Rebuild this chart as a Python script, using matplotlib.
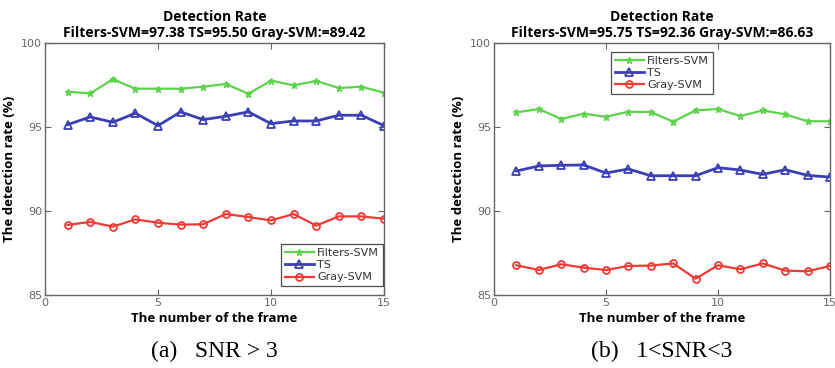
import matplotlib
matplotlib.use("Agg")
import matplotlib.pyplot as plt

frames = list(range(1, 16))

# Panel (a) SNR > 3
a_filters = [97.10, 97.00, 97.84, 97.28, 97.28, 97.28, 97.40, 97.56, 96.98, 97.76, 97.48, 97.74, 97.32, 97.40, 97.04]
a_ts      = [95.14, 95.60, 95.28, 95.82, 95.08, 95.90, 95.44, 95.64, 95.90, 95.20, 95.36, 95.36, 95.70, 95.70, 95.08]
a_gray    = [89.17, 89.35, 89.07, 89.50, 89.30, 89.19, 89.21, 89.82, 89.64, 89.44, 89.82, 89.13, 89.68, 89.68, 89.54]

# Panel (b) 1<SNR<3
b_filters = [95.87, 96.07, 95.48, 95.79, 95.61, 95.91, 95.89, 95.32, 95.99, 96.07, 95.65, 95.99, 95.75, 95.34, 95.34]
b_ts      = [92.38, 92.68, 92.72, 92.74, 92.26, 92.50, 92.10, 92.10, 92.10, 92.58, 92.44, 92.18, 92.46, 92.12, 92.02]
b_gray    = [86.77, 86.49, 86.83, 86.63, 86.49, 86.73, 86.75, 86.88, 85.97, 86.77, 86.53, 86.88, 86.45, 86.41, 86.73]

titles = ["Detection Rate\nFilters-SVM=97.38 TS=95.50 Gray-SVM:=89.42",
          "Detection Rate\nFilters-SVM=95.75 TS=92.36 Gray-SVM:=86.63"]
captions = ["(a)   SNR > 3", "(b)   1<SNR<3"]
series_names = ["Filters-SVM", "TS", "Gray-SVM"]
xticks = [0, 5, 10, 15]
yticks = [85, 90, 95, 100]

W, H = 835, 368
fig = plt.figure(figsize=(W / 100, H / 100), dpi=100)

def rect(x0, y0, x1, y1):
    return [x0 / W, 1 - y1 / H, (x1 - x0) / W, (y1 - y0) / H]

axes_px = [(45, 43, 384, 295), (494, 43, 830, 295)]
data = [(a_filters, a_ts, a_gray), (b_filters, b_ts, b_gray)]
legend_locs = [dict(loc="lower right", bbox_to_anchor=(1.0, 0.03)),
               dict(loc="upper center", bbox_to_anchor=(0.5, 0.97))]

green = "#5DD24B"
blue = "#3A3FB3"
red = "#F03A36"
tickc = "#666666"

for i, (px, (f, t, g)) in enumerate(zip(axes_px, data)):
    ax = fig.add_axes(rect(*px))
    ax.plot(frames, f, color=green, lw=1.6, marker="*", ms=5, mew=1.0,
            label=series_names[0])
    ax.plot(frames, t, color=blue, lw=2.0, marker="^", ms=5.5, mfc="none",
            mew=1.3, label=series_names[1])
    ax.plot(frames, g, color=red, lw=1.6, marker="o", ms=5, mfc="none",
            mew=1.3, label=series_names[2])
    ax.set_xlim(0, 15)
    ax.set_ylim(85, 100)
    ax.set_xticks(xticks)
    ax.set_yticks(yticks)
    ax.tick_params(direction="in", top=True, right=True, length=4,
                   labelsize=8, colors=tickc, labelcolor=tickc, pad=2)
    for s in ax.spines.values():
        s.set_color("#666666")
        s.set_linewidth(1.0)
    ax.set_title(titles[i], fontsize=10, fontweight="bold", pad=4,
                 linespacing=1.25, family="Open Sans")
    ax.set_xlabel("The number of the frame", fontsize=9.5, fontweight="bold",
                  family="Open Sans", labelpad=3)
    ax.set_ylabel("The detection rate (%)", fontsize=9.5, fontweight="bold",
                  family="Open Sans", labelpad=4)
    leg = ax.legend(fontsize=8, frameon=True, fancybox=False,
                    edgecolor="#222222", handlelength=2.6, borderpad=0.35,
                    labelspacing=0.2, handletextpad=0.3, borderaxespad=0.1,
                    **legend_locs[i])
    leg.get_frame().set_linewidth(0.9)
    for txt in leg.get_texts():
        txt.set_color("#333333")
    cx = (px[0] + px[2]) / 2 / W
    fig.text(cx, 1 - 351 / H, captions[i], ha="center", va="center",
             fontsize=17, family="Liberation Serif")

fig.savefig("out.png", dpi=100)
